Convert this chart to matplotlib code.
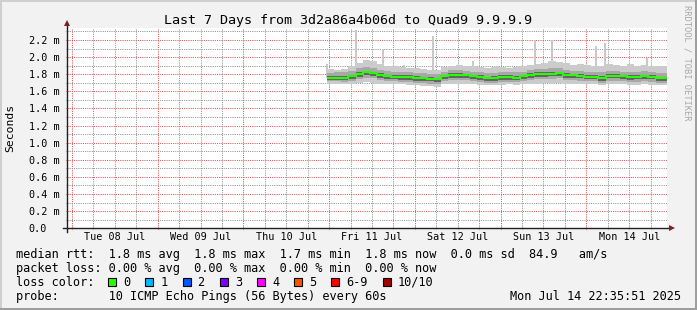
import matplotlib
matplotlib.use("Agg")
import numpy as np
import pandas as pd
import matplotlib.pyplot as plt
import matplotlib.dates as mdates
from matplotlib.ticker import MultipleLocator, FuncFormatter, NullFormatter
from matplotlib.patches import Rectangle
from matplotlib.lines import Line2D

plt.rcParams["font.family"] = ["DejaVu Sans Mono"]

# Zeitfenster
t_start = pd.Timestamp("2025-07-07 22:35:51")
t_end = pd.Timestamp("2025-07-14 22:35:51")
first = pd.Timestamp("2025-07-10 23:25")

# RTT in ms, 2-Stunden-Schritte ab Jul 10 23:25
median = [1.76, 1.76, 1.76, 1.775, 1.80, 1.82, 1.81, 1.79, 1.775, 1.77, 1.765, 1.765,
          1.755, 1.75, 1.745, 1.74, 1.775, 1.79, 1.79, 1.785, 1.775, 1.765, 1.75, 1.755,
          1.765, 1.765, 1.76, 1.775, 1.79, 1.80, 1.80, 1.805, 1.81, 1.79, 1.785, 1.78,
          1.77, 1.77, 1.755, 1.78, 1.78, 1.775, 1.765, 1.77, 1.775, 1.77, 1.75, 1.75]
rtt_max = [1.86, 1.85, 1.86, 1.89, 1.93, 1.96, 1.95, 1.92, 1.90, 1.89, 1.88, 1.87,
           1.87, 1.86, 1.85, 1.85, 1.88, 1.90, 1.91, 1.89, 1.89, 1.88, 1.87, 1.88,
           1.88, 1.87, 1.88, 1.89, 1.91, 1.92, 1.93, 1.95, 1.94, 1.93, 1.91, 1.92,
           1.91, 1.90, 1.89, 1.92, 1.91, 1.90, 1.92, 1.90, 1.91, 1.89, 1.90, 1.89]
rtt_min = [1.69, 1.69, 1.68, 1.69, 1.70, 1.71, 1.70, 1.69, 1.69, 1.68, 1.68, 1.67,
           1.67, 1.66, 1.66, 1.655, 1.68, 1.69, 1.69, 1.69, 1.68, 1.67, 1.67, 1.67,
           1.67, 1.68, 1.67, 1.68, 1.69, 1.69, 1.70, 1.70, 1.70, 1.69, 1.69, 1.68,
           1.68, 1.68, 1.67, 1.68, 1.68, 1.68, 1.67, 1.67, 1.68, 1.67, 1.67, 1.67]
p8 = [1.81, 1.82, 1.82, 1.84, 1.87, 1.88, 1.87, 1.85, 1.84, 1.83, 1.82, 1.82,
      1.81, 1.81, 1.80, 1.80, 1.83, 1.85, 1.85, 1.84, 1.83, 1.82, 1.81, 1.81,
      1.82, 1.82, 1.82, 1.83, 1.85, 1.86, 1.86, 1.87, 1.87, 1.85, 1.84, 1.84,
      1.83, 1.83, 1.82, 1.84, 1.84, 1.83, 1.83, 1.83, 1.84, 1.83, 1.81, 1.81]
p1 = [1.72, 1.72, 1.71, 1.72, 1.74, 1.76, 1.75, 1.73, 1.72, 1.72, 1.71, 1.71,
      1.70, 1.70, 1.69, 1.69, 1.72, 1.73, 1.73, 1.73, 1.72, 1.71, 1.70, 1.70,
      1.71, 1.71, 1.71, 1.72, 1.73, 1.74, 1.74, 1.74, 1.75, 1.73, 1.73, 1.72,
      1.72, 1.72, 1.70, 1.72, 1.72, 1.72, 1.71, 1.71, 1.72, 1.71, 1.70, 1.70]
p6 = [1.78, 1.78, 1.78, 1.795, 1.82, 1.84, 1.83, 1.81, 1.795, 1.79, 1.785, 1.785,
      1.775, 1.77, 1.765, 1.76, 1.795, 1.81, 1.81, 1.805, 1.795, 1.785, 1.77, 1.775,
      1.785, 1.785, 1.78, 1.795, 1.81, 1.82, 1.82, 1.825, 1.83, 1.81, 1.805, 1.80,
      1.79, 1.79, 1.775, 1.80, 1.80, 1.795, 1.785, 1.79, 1.795, 1.79, 1.77, 1.77]
p3 = [1.73, 1.73, 1.73, 1.745, 1.77, 1.79, 1.78, 1.76, 1.745, 1.74, 1.735, 1.735,
      1.725, 1.72, 1.715, 1.71, 1.745, 1.76, 1.76, 1.755, 1.745, 1.735, 1.72, 1.725,
      1.735, 1.735, 1.73, 1.745, 1.76, 1.77, 1.77, 1.775, 1.78, 1.76, 1.755, 1.75,
      1.74, 1.74, 1.725, 1.75, 1.75, 1.745, 1.735, 1.74, 1.745, 1.74, 1.72, 1.72]

# einzelne Ausreisser
spike_t = ["2025-07-10 23:25", "2025-07-11 07:30", "2025-07-11 10:30", "2025-07-11 15:05",
           "2025-07-11 21:00", "2025-07-12 05:00", "2025-07-12 16:15", "2025-07-13 09:40",
           "2025-07-13 14:25", "2025-07-14 02:45", "2025-07-14 05:15", "2025-07-14 17:00"]
spike_v = [1.92, 2.32, 1.96, 2.10, 1.91, 2.25, 1.95, 2.20, 2.20, 2.13, 2.16, 1.99]

loss_labels = ["0", "1", "2", "3", "4", "5", "6-9", "10/10"]
loss_colors = ["#26ff00", "#00b8ff", "#0059ff", "#7e00ff", "#ff00ff", "#ff5500", "#ff0000", "#a10000"]

W, H = 697, 310
fx = lambda x: x / W
fy = lambda y: 1 - y / H

fig = plt.figure(figsize=(W / 100, H / 100), dpi=100, facecolor="#f2f2f2")
ax = fig.add_axes([fx(67), fy(228.3), 600 / W, 200.6 / H])
ax.set_facecolor("white")
ax.set_axisbelow(True)

edges = list(pd.date_range(first, periods=len(median), freq="2h")) + [t_end]
e = mdates.date2num(pd.DatetimeIndex(edges).to_pydatetime())

st = mdates.date2num(pd.DatetimeIndex(spike_t).to_pydatetime())
ax.vlines(st, 1.75, spike_v, color="#c8c8c8", lw=1.4, zorder=1)
ax.stairs(rtt_max, e, baseline=rtt_min, fill=True, color="#cbcbcb", lw=0, zorder=1)
ax.stairs(p8, e, baseline=p1, fill=True, color="#a8a8a8", lw=0, zorder=1)
ax.stairs(p6, e, baseline=p3, fill=True, color="#646464", lw=0, zorder=1)
ax.stairs(median, e, baseline=None, color=loss_colors[0], lw=1.5, zorder=4)

ax.set_xlim(mdates.date2num(t_start.to_pydatetime()), mdates.date2num(t_end.to_pydatetime()))
ax.set_ylim(0, 2.343)

mgrid = (0.87, 0.31, 0.31, 0.38)
grid = (0.56, 0.56, 0.56, 0.35)
ax.xaxis.set_major_locator(mdates.DayLocator())
ax.xaxis.set_minor_locator(mdates.HourLocator(byhour=range(0, 24, 6)))
ax.xaxis.set_major_formatter(NullFormatter())
ax.yaxis.set_major_locator(MultipleLocator(0.2))
ax.yaxis.set_minor_locator(MultipleLocator(0.1))
ax.yaxis.set_major_formatter(FuncFormatter(lambda v, p: "0.0" if abs(v) < 1e-9 else f"{v:.1f} m"))
ax.grid(which="major", color=mgrid, lw=0.72, ls=(0, (1, 1.2)))
ax.grid(which="minor", color=grid, lw=0.72, ls=(0, (1, 1.2)))
ax.tick_params(which="major", direction="inout", length=3, color=mgrid, width=0.7)
ax.tick_params(which="minor", direction="inout", length=3, color=grid, width=0.7)
ax.tick_params(axis="y", labelsize=7.3, pad=26)
for lb in ax.get_yticklabels():
    lb.set_horizontalalignment("left")
for s in ax.spines.values():
    s.set_visible(False)

sec = ax.secondary_xaxis("bottom")
sec.xaxis.set_major_locator(mdates.HourLocator(byhour=[12]))
sec.xaxis.set_major_formatter(mdates.DateFormatter("%a %d %b"))
sec.tick_params(length=0, labelsize=7.3, pad=3)
sec.spines["bottom"].set_visible(False)

# Achsen mit Pfeilen
axis_c = (0.12, 0.12, 0.12)
arrow_c = (0.5, 0.12, 0.12)
ax.add_line(Line2D([0, 0], [-0.018, 1.025], transform=ax.transAxes, color=axis_c, lw=1, clip_on=False, zorder=5))
ax.add_line(Line2D([-0.007, 1.005], [0, 0], transform=ax.transAxes, color=axis_c, lw=1, clip_on=False, zorder=5))
ax.plot([0], [1.022], marker="^", ms=4.5, color=arrow_c, mew=0, transform=ax.transAxes, clip_on=False, zorder=6)
ax.plot([1.009], [0], marker=">", ms=4.5, color=arrow_c, mew=0, transform=ax.transAxes, clip_on=False, zorder=6)

# Texte
fig.text(fx(348), fy(24), "Last 7 Days from 3d2a86a4b06d to Quad9 9.9.9.9", ha="center", va="baseline", size=9.6)
fig.text(fx(10), fy(128), "Seconds", rotation=90, ha="center", va="center", size=8.2)
fig.text(fx(687.5), fy(5), "RRDTOOL / TOBI OETIKER", rotation=-90, ha="center", va="top", size=6.3, color="#a8a8a8")

fs = 8.55
fig.text(fx(16), fy(257.7), "median rtt:  1.8 ms avg  1.8 ms max  1.7 ms min  1.8 ms now  0.0 ms sd  84.9   am/s", va="baseline", size=fs)
fig.text(fx(16), fy(271.7), "packet loss: 0.00 % avg  0.00 % max  0.00 % min  0.00 % now", va="baseline", size=fs)
fig.text(fx(16), fy(285.7), "loss color:", va="baseline", size=fs)
fig.text(fx(16), fy(299.7), "probe:       10 ICMP Echo Pings (56 Bytes) every 60s", va="baseline", size=fs)
fig.text(fx(681), fy(299.7), "Mon Jul 14 22:35:51 2025", ha="right", va="baseline", size=fs)

bx = 108.3
for lab, col in zip(loss_labels, loss_colors):
    fig.patches.append(Rectangle((fx(bx), fy(285.7)), 8 / W, 8 / H, transform=fig.transFigure,
                                 facecolor=col, edgecolor="black", lw=0.8))
    fig.text(fx(bx + 15), fy(285.7), lab, va="baseline", size=fs)
    bx += 30 + 7.16 * len(lab)

# Rahmen
fig.patches.append(Rectangle((0, 1 - 2 / H), 1, 2 / H, transform=fig.transFigure, color="#cfcfcf", lw=0))
fig.patches.append(Rectangle((0, 0), 2 / W, 1, transform=fig.transFigure, color="#cfcfcf", lw=0))
fig.patches.append(Rectangle((0, 0), 1, 2 / H, transform=fig.transFigure, color="#9e9e9e", lw=0))
fig.patches.append(Rectangle((1 - 2 / W, 0), 2 / W, 1, transform=fig.transFigure, color="#9e9e9e", lw=0))

fig.savefig("out.png", dpi=100, facecolor=fig.get_facecolor())
